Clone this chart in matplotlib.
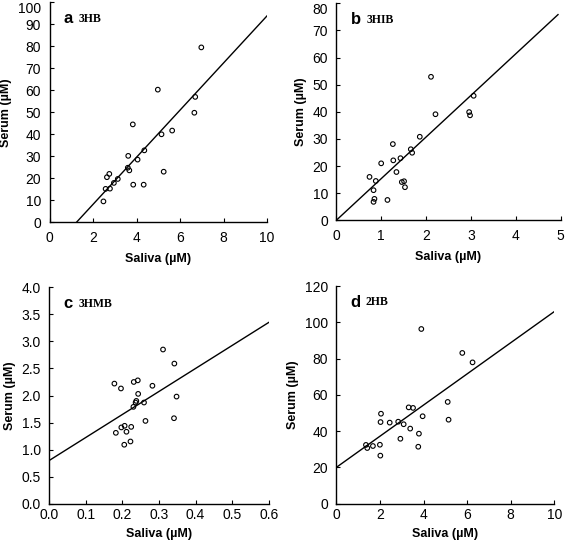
import matplotlib
matplotlib.use("Agg")
import matplotlib.pyplot as plt
import numpy as np

plt.rcParams['font.family'] = ['Liberation Sans', 'DejaVu Sans']

# ---- data ----
a_saliva = [6.98, 4.98, 6.70, 6.66, 3.83, 5.64, 5.15, 4.36, 3.62, 4.05, 3.60,
            3.67, 5.25, 2.75, 2.64, 3.14, 2.96, 3.85, 4.33, 2.58, 2.78, 2.48]
a_serum = [79.5, 60.3, 57.0, 49.8, 44.5, 41.7, 40.0, 32.7, 30.2, 28.5, 24.8,
           23.6, 23.0, 22.0, 20.5, 19.7, 17.9, 17.1, 17.1, 15.2, 15.3, 9.5]

b_saliva = [2.11, 2.21, 2.96, 2.98, 3.06, 1.86, 1.26, 1.66, 1.69, 1.43, 1.27,
            1.00, 1.34, 0.74, 0.88, 1.46, 1.51, 1.53, 0.83, 0.85, 0.83, 1.14]
b_serum = [52.9, 39.1, 39.9, 38.7, 45.9, 30.8, 28.1, 26.2, 24.9, 22.9, 22.1,
           21.0, 17.8, 16.0, 14.5, 14.1, 14.4, 12.2, 11.1, 7.9, 6.8, 7.5]

c_saliva = [0.178, 0.196, 0.231, 0.242, 0.311, 0.342, 0.282, 0.243, 0.348, 0.238, 0.236,
            0.259, 0.230, 0.263, 0.341, 0.182, 0.197, 0.206, 0.211, 0.224, 0.205, 0.222]
c_serum = [2.22, 2.13, 2.25, 2.28, 2.85, 2.59, 2.18, 2.03, 1.98, 1.90, 1.87,
           1.87, 1.79, 1.53, 1.58, 1.31, 1.41, 1.44, 1.33, 1.42, 1.09, 1.15]

d_saliva = [3.90, 5.78, 6.25, 5.11, 5.15, 3.32, 3.52, 2.05, 3.96, 2.03, 2.45,
            2.84, 3.09, 3.39, 2.94, 3.79, 3.76, 1.36, 1.42, 1.68, 2.00, 2.02]
d_serum = [96.3, 83.1, 77.9, 56.1, 46.3, 53.1, 52.8, 49.6, 48.2, 45.0, 44.7,
           45.2, 43.8, 41.4, 35.8, 38.6, 31.4, 32.4, 30.7, 31.8, 32.5, 26.5]

# trend lines: slope, intercept, x range
a_fit = (10.71, -13.28, 0.0, 10.0)
b_fit = (15.35, 0.0, 0.0, 4.94)
c_fit = (4.25, 0.80, 0.0, 0.605)
d_fit = (8.59, 20.0, 0.0, 10.0)

letters = ['a', 'b', 'c', 'd']
names = ['3HB', '3HIB', '3HMB', '2HB']
xticks = [np.arange(0, 10.1, 2), np.arange(0, 5.1, 1), np.arange(0, 0.61, 0.1), np.arange(0, 10.1, 2)]
yticks = [np.arange(0, 100.1, 10), np.arange(0, 80.1, 10), np.arange(0, 4.01, 0.5), np.arange(0, 120.1, 20)]
xfmt = ['{:.0f}', '{:.0f}', '{:.1f}', '{:.0f}']
yfmt = ['{:.0f}', '{:.0f}', '{:.1f}', '{:.0f}']

W, H = 567, 549
fig = plt.figure(figsize=(W / 100, H / 100), dpi=100)

# axes boxes in pixels: left, right, top, bottom
boxes = [(49.5, 267, 2.3, 222.3), (336.3, 560.7, 3.3, 220.3),
         (49.3, 268.7, 287.3, 503.7), (336.3, 554.3, 286, 503.7)]
xpads = [6, 6, 3, 3]
xlabelpads = [6, 6, 4.5, 4.5]

data = [(a_saliva, a_serum, a_fit), (b_saliva, b_serum, b_fit),
        (c_saliva, c_serum, c_fit), (d_saliva, d_serum, d_fit)]

for i in range(4):
    l, r, t, b = boxes[i]
    ax = fig.add_axes([l / W, 1 - b / H, (r - l) / W, (b - t) / H])
    xs, ys, fit = data[i]
    ax.scatter(xs, ys, s=11, facecolors='none', edgecolors='black', linewidths=0.8, zorder=3)
    m, c0, x0, x1 = fit
    xx = np.array([x0, x1])
    ax.plot(xx, m * xx + c0, color='black', lw=1.0)
    ax.set_xlim(xticks[i][0], xticks[i][-1])
    ax.set_ylim(yticks[i][0], yticks[i][-1])
    ax.set_xticks(xticks[i])
    ax.set_yticks(yticks[i])
    ax.set_xticklabels([xfmt[i].format(v) for v in xticks[i]])
    ylabs = ax.set_yticklabels([yfmt[i].format(v) for v in yticks[i]])
    ax.tick_params(direction='in', length=3, width=0.8, labelsize=10, colors='black')
    ax.tick_params(axis='x', pad=xpads[i])
    ax.tick_params(axis='y', pad=6)
    if i < 2:
        ylabs[-1].set_verticalalignment('top')
    for s in ['top', 'right']:
        ax.spines[s].set_visible(False)
    for s in ['left', 'bottom']:
        ax.spines[s].set_linewidth(1.0)
    ax.set_xlabel('Saliva (µM)', fontsize=9, fontweight='bold', labelpad=xlabelpads[i])
    ax.set_ylabel('Serum (µM)', fontsize=9, fontweight='bold', labelpad=4)
    ax.text(0.065, 0.925, letters[i], transform=ax.transAxes, fontsize=12,
            fontweight='bold', va='center', ha='left')
    ax.text(0.135, 0.925, names[i], transform=ax.transAxes, fontsize=8.5,
            fontweight='bold', family='Liberation Serif', va='center', ha='left')
    ax.patch.set_visible(False)

fig.savefig('out.png', dpi=100)
